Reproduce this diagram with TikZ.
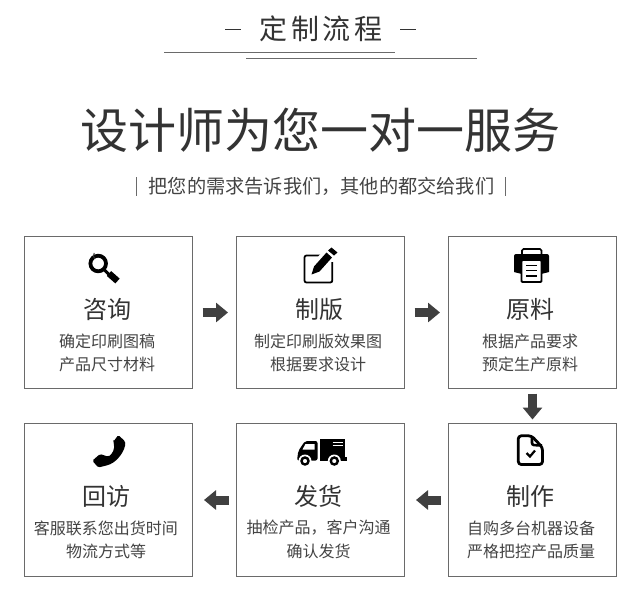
\documentclass[tikz,border=0pt]{standalone}
\usepackage{fontspec}
\usetikzlibrary{arrows.meta}
\newfontfamily\cjk{Noto Sans CJK SC}
\newfontfamily\cjkwide[LetterSpace=14]{Noto Sans CJK SC}
\definecolor{ink}{HTML}{333333}
\definecolor{soft}{HTML}{444444}
\definecolor{frame}{HTML}{6A6A6A}
\definecolor{blockarrow}{HTML}{404040}
\tikzset{
  stepbox/.style={draw=frame,line width=1pt,fill=white,minimum width=168pt,minimum height=152pt,inner sep=0pt},
  steptitle/.style={font=\cjk\fontsize{24}{24}\selectfont,text=ink,inner sep=0pt},
  stepline/.style={font=\cjk\fontsize{16}{16}\selectfont,text=soft,inner sep=0pt},
  flow/.style={draw=blockarrow,line width=9pt,-{Triangle[length=12pt,width=19pt]}},
  rule/.style={draw=frame,line width=1pt},
}
\begin{document}
\begin{tikzpicture}[x=1pt,y=-1pt]
\useasboundingbox (0,0) rectangle (640,598);
\fill[white] (0,0) rectangle (640,598);
% heading
\node[font=\cjkwide\fontsize{28}{28}\selectfont,text=ink,inner sep=0pt] (head) at (321,29) {定制流程};
\coordinate (d1a) at (225,29); \coordinate (d1b) at (241,29);
\coordinate (d2a) at (400,29); \coordinate (d2b) at (416,29);
\draw[rule,draw=ink] (d1a) -- (d1b);
\draw[rule,draw=ink] (d2a) -- (d2b);
\coordinate (r1a) at (164,52.5); \coordinate (r1b) at (395,52.5);
\coordinate (r2a) at (246,58.5); \coordinate (r2b) at (477,58.5);
\draw[rule] (r1a) -- (r1b);
\draw[rule] (r2a) -- (r2b);
\node[font=\cjk\fontsize{48}{48}\selectfont,text=ink,inner sep=0pt] (title) at (320,130) {设计师为您一对一服务};
\node[font=\cjk\fontsize{19.2}{20}\selectfont,text=soft,inner sep=0pt] (sub) at (321.5,186) {把您的需求告诉我们，其他的都交给我们};
\coordinate (b1a) at (136.5,177); \coordinate (b1b) at (136.5,196);
\coordinate (b2a) at (505.5,177); \coordinate (b2b) at (505.5,196);
\draw[rule] (b1a) -- (b1b);
\draw[rule] (b2a) -- (b2b);
% boxes
\node[stepbox] (a) at (108.5,312.5) {};
\node[stepbox] (b) at (320.5,312.5) {};
\node[stepbox] (c) at (532.5,312.5) {};
\node[stepbox,minimum height=153pt] (d) at (532.5,500) {};
\node[stepbox,minimum height=153pt] (e) at (320.5,500) {};
\node[stepbox,minimum height=153pt] (f) at (108.5,500) {};
% flow arrows
\draw[flow,shorten <=9.5pt,shorten >=8pt] (a) -- (b);
\draw[flow,shorten <=9.5pt,shorten >=8pt] (b) -- (c);
\draw[flow,shorten <=4.5pt,shorten >=3.5pt] (c) -- (d);
\draw[flow,shorten <=7.5pt,shorten >=11pt] (d) -- (e);
\draw[flow,shorten <=7.5pt,shorten >=11pt] (e) -- (f);
% labels
\node[steptitle] (at) at (107,309) {咨询};
\node[stepline] (a1) at (107,341) {确定印刷图稿};
\node[stepline] (a2) at (107,364) {产品尺寸材料};
\node[steptitle] (bt) at (319,309) {制版};
\node[stepline] (b1) at (318,341) {制定印刷版效果图};
\node[stepline] (b2) at (318,364) {根据要求设计};
\node[steptitle] (ct) at (530,309) {原料};
\node[stepline] (c1) at (530,341) {根据产品要求};
\node[stepline] (c2) at (530,364) {预定生产原料};
\node[steptitle] (dt) at (530,496) {制作};
\node[stepline] (d1) at (531,528) {自购多台机器设备};
\node[stepline] (d2) at (531,551) {严格把控产品质量};
\node[steptitle] (et) at (318,496) {发货};
\node[stepline] (e1) at (318.5,528) {抽检产品，客户沟通};
\node[stepline] (e2) at (318.5,551) {确认发货};
\node[steptitle] (ft) at (106,496) {回访};
\node[stepline] (f1) at (106,528) {客服联系您出货时间};
\node[stepline] (f2) at (106,551) {物流方式等};
% magnifier
\draw[black,line width=3.8pt] (98.2,263.5) circle (7.8pt);
\draw[black,line width=3pt] (104.5,270) -- (109,274.5);
\draw[black,line width=6.5pt] (109,273.5) -- (117.5,281);
\draw[black!80,line width=1pt] (95,259) arc (130:215:4.5);
% pencil and frame
\draw[black,line width=1.8pt,rounded corners=2pt] (328,255.5) -- (304.5,255.5) -- (304.5,282.5) -- (332.3,282.5) -- (332.3,262);
\fill[white] (310,277) -- (306,270) -- (326,248) -- (338,256) -- cycle;
\fill[black] (311.5,274.5) -- (314,266.5) -- (326.5,252.5) -- (332,257.5) -- (319.5,271.5) -- cycle;
\fill[black] (328,250.5) -- (331.5,247.5) -- (337.5,252.5) -- (334,255.5) -- cycle;
% printer
\fill[black,rounded corners=2pt] (514,254) rectangle (549,272);
\draw[black,line width=1.6pt,rounded corners=1.5pt] (522,255) -- (522,249) -- (541.5,249) -- (541.5,255);
\fill[black] (514,270) -- (549,270) -- (549,272) -- (541,274) -- (522,274) -- (514,272) -- cycle;
\draw[black,fill=white,line width=1.8pt,rounded corners=1pt] (521.5,260) rectangle (541.5,282);
\draw[black,line width=1.3pt] (526,265.5) -- (537,265.5) (526,270.8) -- (537,270.8) (526,276) -- (537,276);
% phone
\fill[black,rounded corners=1.5pt] (113.3,441.7) -- (118.3,435) -- (125.2,441.5) .. controls (125.5,450) and (118,461) .. (108.3,465) -- (98.3,467.5) -- (92.3,460.7) -- (100,454) -- (108.3,456.7) .. controls (112,454) and (115.5,449) .. (113.3,441.7) -- cycle;
% truck
\fill[black] (320,438.7) rectangle (345,458.5);
\fill[black] (320,456.5) rectangle (346.7,460.5);
\fill[black,rounded corners=2pt] (317.5,441) -- (305,441) -- (298.3,451) -- (297,460.5) -- (317.5,460.5) -- cycle;
\fill[white] (305.5,444) -- (314.5,444) -- (314.5,449.5) -- (302.5,449.5) -- cycle;
\draw[white,line width=1pt] (332.7,442) -- (342.7,442) (332.7,445.3) -- (342.7,445.3);
\fill[white] (305,461) circle (6.5pt) (334.3,461) circle (6.5pt);
\draw[black,fill=white,line width=2.4pt] (305,461) circle (3.5pt);
\draw[black,fill=white,line width=2.4pt] (334.3,461) circle (3.5pt);
% document
\draw[black,line width=2.8pt,line join=round,rounded corners=3pt] (531.5,435.8) -- (518.3,435.8) -- (518.3,464.5) -- (542.5,464.5) -- (542.5,447.5) -- cycle;
\draw[black,line width=2.6pt,line join=round,rounded corners=2pt] (532,436.5) -- (532,445) -- (542,445.5);
\draw[black,line width=2.2pt] (526.5,453) -- (530,456.5) -- (535,450.5);
\end{tikzpicture}
\end{document}
